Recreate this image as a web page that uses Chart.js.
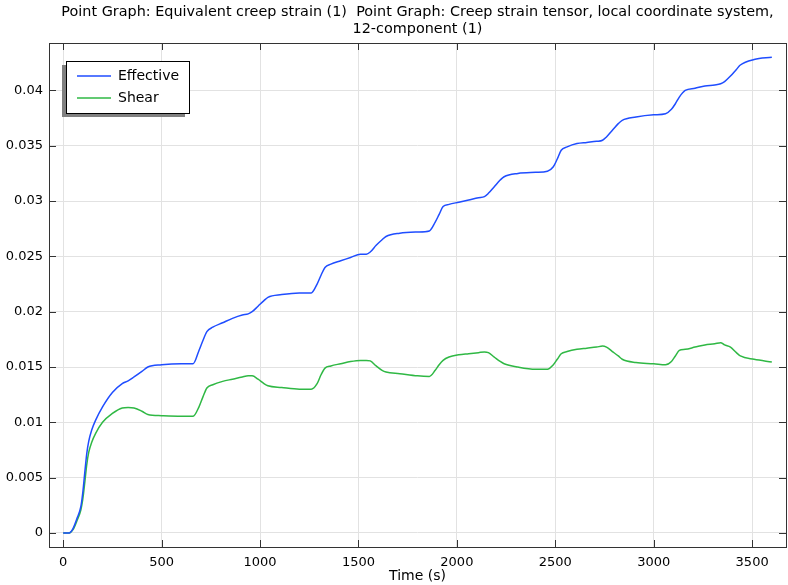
<!DOCTYPE html>
<html>
<head>
<meta charset="utf-8">
<script src="https://cdn.jsdelivr.net/npm/chart.js@4.4.1/dist/chart.umd.min.js"></script>
<style>
    html, body { margin: 0; padding: 0; background: #fff; }
    #wrap { width: 788px; height: 585px; }
</style>
</head>
<body>
<div id="wrap"><canvas id="creepChart"></canvas></div>
<script>
const titleLines = [
    'Point Graph: Equivalent creep strain (1)  Point Graph: Creep strain tensor, local coordinate system,',
    '12-component (1)'
];
const seriesNames = ['Effective', 'Shear'];
const xTicks = [0, 500, 1000, 1500, 2000, 2500, 3000, 3500];
const yTicks = [0, 0.005, 0.01, 0.015, 0.02, 0.025, 0.03, 0.035, 0.04];

// Time (s)
const time = [
    0, 30, 50, 70, 90, 100, 110, 120, 130, 145, 165, 200, 250, 300, 330, 360, 400, 430, 500, 600,
    660, 690, 710, 730, 760, 810, 860, 910, 940, 960, 990, 1020, 1040, 1110, 1200,
    1260, 1290, 1310, 1330, 1360, 1410, 1460, 1510, 1540, 1560, 1590, 1620, 1640, 1710, 1800,
    1860, 1890, 1910, 1930, 1960, 2010, 2060, 2110, 2140, 2160, 2190, 2220, 2240, 2310, 2400,
    2460, 2490, 2510, 2530, 2560, 2610, 2660, 2710, 2740, 2760, 2790, 2820, 2840, 2910, 3000,
    3060, 3090, 3110, 3130, 3160, 3210, 3260, 3310, 3340, 3360, 3390, 3420, 3440, 3510, 3600
];

// Equivalent creep strain
const effective = [
    0, 0, 0.0004, 0.0013, 0.0024, 0.0037, 0.0055, 0.0072, 0.0083, 0.0093, 0.0102, 0.0114, 0.0127, 0.0135, 0.01375, 0.0141, 0.0146, 0.0150, 0.0152, 0.0153,
    0.0153, 0.0165, 0.0174, 0.0182, 0.0186, 0.0190, 0.0194, 0.0197, 0.0198, 0.0200, 0.0205, 0.0210, 0.0213, 0.02155, 0.0217,
    0.0217, 0.0225, 0.0233, 0.0240, 0.0243, 0.0246, 0.0249, 0.0252, 0.0252, 0.0254, 0.0260, 0.0265, 0.0268, 0.0271, 0.0272,
    0.0273, 0.0281, 0.0288, 0.0295, 0.0297, 0.0299, 0.0301, 0.0303, 0.0304, 0.0307, 0.0313, 0.0319, 0.0322, 0.0325, 0.0326,
    0.0327, 0.0331, 0.0338, 0.0346, 0.0349, 0.0352, 0.0353, 0.0354, 0.0355, 0.0358, 0.0364, 0.0370, 0.0373, 0.0376, 0.0378,
    0.0379, 0.0383, 0.0388, 0.0394, 0.0400, 0.0402, 0.0404, 0.0405, 0.0406, 0.0408, 0.0413, 0.0419, 0.0423, 0.0428, 0.0430
];

// Shear creep strain (12-component)
const shear = [
    0, 0, 0.0003, 0.0011, 0.0021, 0.0031, 0.0046, 0.0062, 0.0073, 0.0082, 0.0090, 0.0100, 0.0108, 0.0113, 0.01135, 0.0113, 0.0110, 0.0107, 0.0106, 0.01055,
    0.01055, 0.0114, 0.0123, 0.0131, 0.0134, 0.0137, 0.0139, 0.0141, 0.0142, 0.0142, 0.0139, 0.0135, 0.0133, 0.01315, 0.0130,
    0.0130, 0.0135, 0.0143, 0.0149, 0.0151, 0.0153, 0.0155, 0.0156, 0.0156, 0.01555, 0.0151, 0.0147, 0.01455, 0.0144, 0.0142,
    0.01415, 0.0147, 0.0152, 0.0156, 0.0159, 0.0161, 0.0162, 0.0163, 0.01636, 0.0163, 0.0159, 0.0155, 0.0153, 0.0150, 0.0148,
    0.0148, 0.0152, 0.0157, 0.0162, 0.0164, 0.0166, 0.0167, 0.0168, 0.0169, 0.0168, 0.0164, 0.0160, 0.0157, 0.0154, 0.0153,
    0.0152, 0.0155, 0.0160, 0.0165, 0.0166, 0.0168, 0.0170, 0.0171, 0.0172, 0.0170, 0.0168, 0.0163, 0.0160, 0.0157, 0.01545
];

const blue = '#1f4dff';
const green = '#2fb844';
const font = 'DejaVu Sans';

// COMSOL-style frame, inner ticks, title and legend
const framePlugin = {
    id: 'frame',
    afterDraw(chart) {
        const ctx = chart.ctx;
        const a = chart.chartArea;
        const xs = chart.scales.x, ys = chart.scales.y;
        ctx.save();
        ctx.strokeStyle = '#333';
        ctx.lineWidth = 1;
        ctx.beginPath();
        xs.ticks.forEach(t => {
            const px = Math.round(xs.getPixelForValue(t.value)) + 0.5;
            ctx.moveTo(px, a.bottom); ctx.lineTo(px, a.bottom - 7);
            ctx.moveTo(px, a.top); ctx.lineTo(px, a.top + 7);
        });
        ys.ticks.forEach(t => {
            const py = Math.round(ys.getPixelForValue(t.value)) + 0.5;
            ctx.moveTo(a.left, py); ctx.lineTo(a.left + 7, py);
            ctx.moveTo(a.right, py); ctx.lineTo(a.right - 7, py);
        });
        ctx.stroke();
        ctx.strokeRect(Math.round(a.left) + 0.5, Math.round(a.top) + 0.5,
            Math.round(a.right - a.left), Math.round(a.bottom - a.top));

        // title centred over the plot area
        ctx.fillStyle = '#000';
        ctx.font = '14.4px "' + font + '"';
        ctx.textAlign = 'center';
        ctx.textBaseline = 'middle';
        const cx = (a.left + a.right) / 2;
        titleLines.forEach((line, i) => ctx.fillText(line, cx, 12 + i * 17));

        // legend box with shadow
        const lx = a.left + 17, ly = a.top + 18, lw = 123, lh = 52;
        ctx.fillStyle = '#808080';
        ctx.fillRect(lx - 4, ly + 4, lw, lh);
        ctx.fillStyle = '#fff';
        ctx.fillRect(lx, ly, lw, lh);
        ctx.strokeStyle = '#000';
        ctx.strokeRect(lx + 0.5, ly + 0.5, lw, lh);
        ctx.font = '14px "' + font + '"';
        ctx.textAlign = 'left';
        chart.data.datasets.forEach((ds, i) => {
            const yy = ly + 15 + i * 22;
            ctx.strokeStyle = ds.borderColor;
            ctx.lineWidth = 1.5;
            ctx.beginPath();
            ctx.moveTo(lx + 11, yy); ctx.lineTo(lx + 45, yy);
            ctx.stroke();
            ctx.fillStyle = '#000';
            ctx.fillText(ds.label, lx + 52, yy);
        });
        ctx.restore();
    }
};

new Chart(document.getElementById('creepChart'), {
    type: 'line',
    data: {
        datasets: [
            {
                label: seriesNames[0],
                data: time.map((t, i) => ({ x: t, y: effective[i] })),
                borderColor: blue,
                borderWidth: 1.5,
                pointRadius: 0,
                cubicInterpolationMode: 'monotone',
                fill: false
            },
            {
                label: seriesNames[1],
                data: time.map((t, i) => ({ x: t, y: shear[i] })),
                borderColor: green,
                borderWidth: 1.5,
                pointRadius: 0,
                cubicInterpolationMode: 'monotone',
                fill: false
            }
        ]
    },
    options: {
        responsive: true,
        maintainAspectRatio: false,
        animation: false,
        layout: { padding: { top: 43, right: 2, bottom: 0, left: 0 } },
        plugins: {
            legend: { display: false },
            title: { display: false },
            tooltip: { enabled: false }
        },
        scales: {
            x: {
                type: 'linear',
                min: -72,
                max: 3672,
                afterBuildTicks: s => { s.ticks = xTicks.map(v => ({ value: v })); },
                afterFit: s => { s.height = 38; },
                border: { display: false },
                grid: { color: '#e2e2e2', drawTicks: false },
                ticks: {
                    autoSkip: false,
                    padding: 8,
                    color: '#000',
                    font: { family: font, size: 13 },
                    maxRotation: 0,
                    callback: v => String(v)
                },
                title: {
                    display: true,
                    text: 'Time (s)',
                    color: '#000',
                    font: { family: font, size: 14 },
                    padding: { top: 0, bottom: 0 }
                }
            },
            y: {
                min: -0.00127,
                max: 0.04429,
                afterBuildTicks: s => { s.ticks = yTicks.map(v => ({ value: v })); },
                afterFit: s => { s.width = 49; },
                border: { display: false },
                grid: { color: '#e2e2e2', drawTicks: false },
                ticks: {
                    autoSkip: false,
                    padding: 6,
                    color: '#000',
                    font: { family: font, size: 13 },
                    callback: v => String(v)
                }
            }
        }
    },
    plugins: [framePlugin]
});
</script>
</body>
</html>
